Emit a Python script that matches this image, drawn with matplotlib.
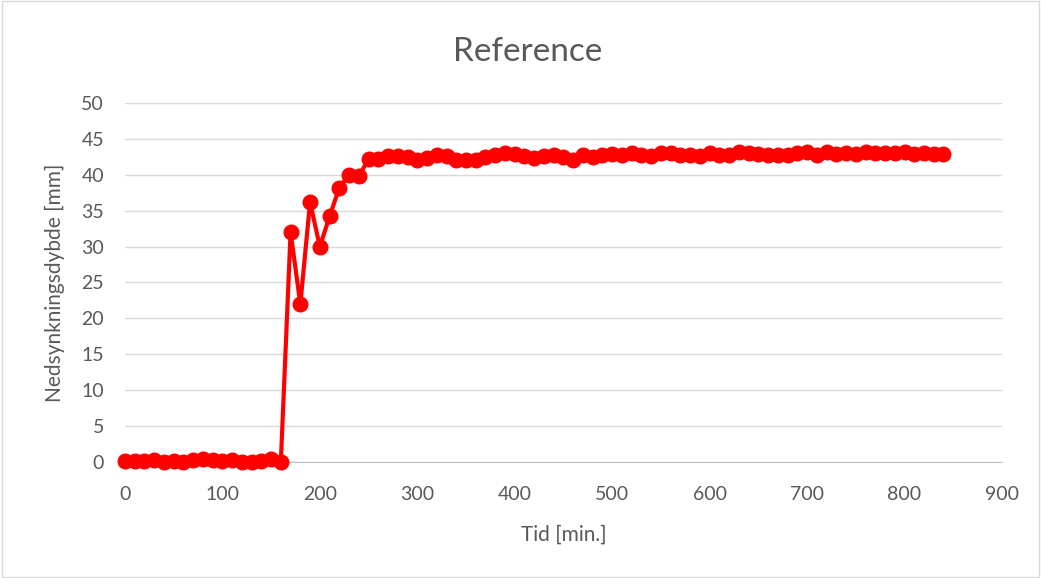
import matplotlib
matplotlib.use("Agg")
import matplotlib.pyplot as plt
import numpy as np

# tid [min] og nedsynkningsdybde [mm]
tid = np.arange(0, 850, 10)
dybde = [
    0.2, 0.2, 0.2, 0.3, 0.0, 0.2, 0.0, 0.3, 0.4, 0.3,
    0.2, 0.3, 0.0, 0.0, 0.2, 0.4, 0.0,
    32.0, 22.0, 36.2, 30.0, 34.2, 38.2, 40.0, 39.8,
    42.2, 42.2, 42.6, 42.6, 42.5, 42.1, 42.4, 42.7, 42.6, 42.0,
    42.1, 42.1, 42.5, 42.8, 43.0, 42.9, 42.6, 42.3, 42.6, 42.8,
    42.5, 42.0, 42.8, 42.5, 42.8, 42.9, 42.8, 43.0, 42.8, 42.6,
    43.1, 43.0, 42.8, 42.8, 42.6, 43.1, 42.7, 42.8, 43.2, 43.0,
    42.9, 42.7, 42.7, 42.7, 43.0, 43.2, 42.7, 43.2, 42.9, 43.0,
    42.9, 43.2, 43.0, 43.0, 43.0, 43.2, 42.9, 43.0, 42.9, 42.9,
]

plt.rcParams['font.family'] = ['Lato', 'DejaVu Sans']
grey = '#595959'

fig = plt.figure(figsize=(10.41, 5.78), dpi=100)
fig.patches.append(plt.Rectangle((0.002, 0.002), 0.996, 0.996, transform=fig.transFigure,
                                 fill=False, edgecolor='#d9d9d9', linewidth=1))
ax = fig.add_axes([0.120, 0.2007, 0.8425, 0.6211])

ax.plot(tid, dybde, '-o', color='#ff0000', linewidth=3, markersize=10.5, clip_on=False, zorder=3)

ax.set_xlim(0, 900)
ax.set_ylim(0, 50)
ax.set_xticks(range(0, 901, 100))
ax.set_yticks(range(0, 51, 5))
ax.grid(axis='y', color='#d9d9d9', linewidth=1)
ax.set_axisbelow(True)
for s in ['top', 'right', 'left']:
    ax.spines[s].set_visible(False)
ax.spines['bottom'].set_color('#bfbfbf')
ax.tick_params(length=0, labelsize=14, colors=grey)
ax.tick_params(axis='x', pad=17)
ax.tick_params(axis='y', pad=15)

ax.set_xlabel('Tid [min.]', fontsize=15, color=grey, labelpad=16)
ax.set_ylabel('Nedsynkningsdybde [mm]', fontsize=15, color=grey, labelpad=12)
fig.text(0.507, 0.91, 'Reference', fontsize=24, color=grey, ha='center', va='center')

fig.savefig('out.png', dpi=100)
